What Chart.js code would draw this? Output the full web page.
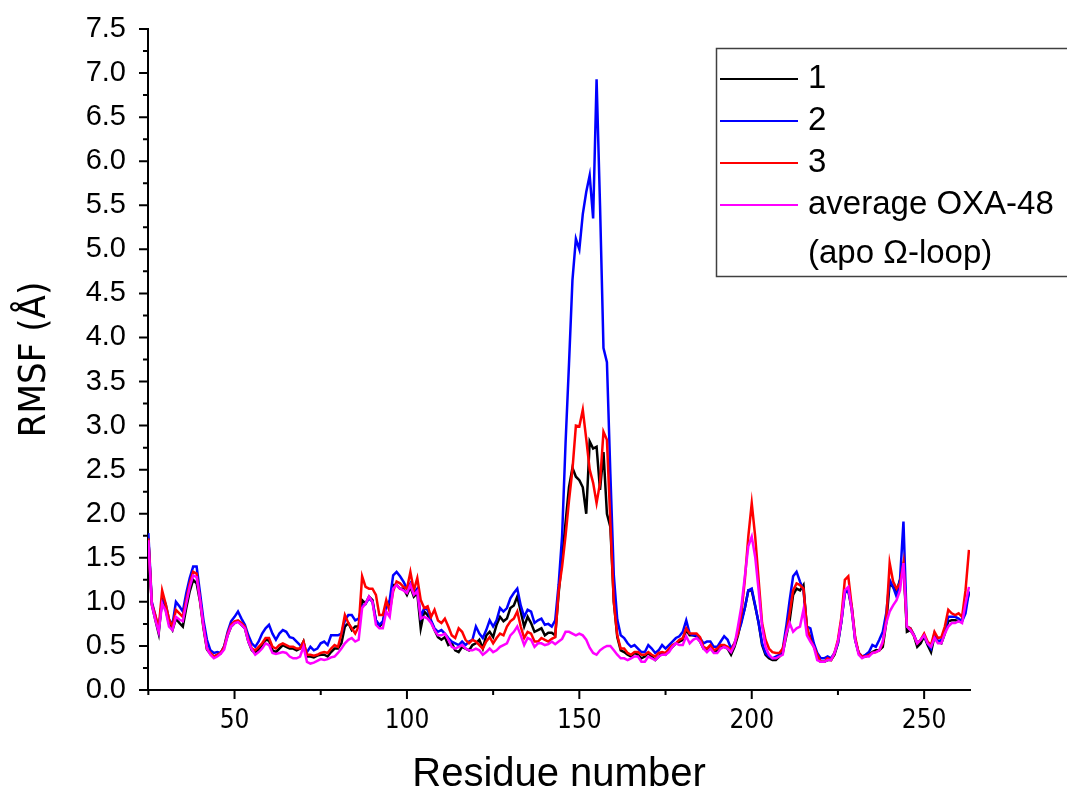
<!DOCTYPE html>
<html><head><meta charset="utf-8">
<script src="https://cdn.jsdelivr.net/npm/chart.js@4.4.0/dist/chart.umd.min.js"></script>
<style>html,body{margin:0;padding:0;background:#fff}#wrap{width:1067px;height:792px;position:relative}</style>
</head><body><div id="wrap"><canvas id="c" width="1067" height="792"></canvas></div>
<script>
const firstResidue = 25;
const series1 = [
1.72,0.97,0.80,0.64,1.04,0.92,0.75,0.68,0.81,0.76,
0.72,0.93,1.12,1.25,1.21,1.00,0.70,0.46,0.41,0.38,
0.40,0.42,0.49,0.62,0.72,0.76,0.78,0.74,0.70,0.55,
0.45,0.42,0.46,0.51,0.57,0.56,0.45,0.43,0.47,0.51,
0.49,0.47,0.47,0.45,0.47,0.55,0.38,0.38,0.37,0.39,
0.40,0.40,0.38,0.43,0.47,0.47,0.53,0.72,0.76,0.68,
0.72,0.72,1.02,0.98,1.06,1.02,0.79,0.72,0.76,0.98,
0.93,1.19,1.19,1.15,1.15,1.08,1.17,1.06,1.10,0.70,
0.89,0.85,0.78,0.68,0.60,0.57,0.60,0.51,0.53,0.45,
0.43,0.49,0.47,0.45,0.51,0.53,0.57,0.47,0.62,0.66,
0.60,0.74,0.83,0.78,0.81,0.93,0.96,1.06,0.89,0.72,
0.83,0.76,0.66,0.68,0.70,0.62,0.65,0.65,0.62,1.10,
1.50,1.90,2.30,2.52,2.42,2.38,2.30,2.00,2.82,2.74,
2.76,2.27,2.70,2.00,1.85,1.00,0.60,0.45,0.43,0.40,
0.38,0.42,0.40,0.36,0.38,0.42,0.38,0.34,0.38,0.42,
0.40,0.45,0.49,0.53,0.55,0.57,0.68,0.62,0.62,0.61,
0.55,0.47,0.45,0.49,0.43,0.45,0.49,0.49,0.47,0.40,
0.49,0.62,0.79,0.93,1.13,1.13,0.95,0.76,0.51,0.40,
0.36,0.34,0.34,0.38,0.42,0.61,0.79,1.08,1.15,1.13,
1.19,0.68,0.60,0.51,0.38,0.32,0.32,0.34,0.34,0.40,
0.53,0.78,1.12,1.13,0.91,0.57,0.42,0.38,0.38,0.40,
0.43,0.45,0.45,0.49,0.76,1.21,1.17,1.12,1.25,1.42,
0.66,0.68,0.62,0.49,0.53,0.61,0.51,0.43,0.61,0.55,
0.53,0.64,0.78,0.79,0.79,0.78,0.79,0.95,1.10];
const series2 = [
1.78,1.00,0.85,0.68,1.02,0.98,0.80,0.74,1.00,0.95,
0.89,1.10,1.27,1.40,1.40,1.10,0.79,0.57,0.45,0.42,
0.43,0.42,0.50,0.66,0.78,0.83,0.89,0.81,0.74,0.62,
0.53,0.49,0.55,0.64,0.70,0.74,0.64,0.57,0.64,0.68,
0.66,0.60,0.59,0.55,0.51,0.47,0.43,0.49,0.45,0.47,
0.53,0.55,0.51,0.62,0.62,0.62,0.64,0.79,0.85,0.85,
0.79,0.81,0.95,0.98,1.04,1.00,0.79,0.74,0.78,0.93,
1.02,1.30,1.34,1.29,1.23,1.15,1.21,1.10,1.15,0.83,
0.93,0.91,0.79,0.70,0.66,0.68,0.64,0.59,0.55,0.53,
0.51,0.55,0.51,0.55,0.57,0.72,0.64,0.59,0.68,0.79,
0.72,0.79,0.93,0.89,0.93,1.04,1.10,1.15,0.96,0.83,
0.91,0.89,0.76,0.79,0.81,0.74,0.75,0.72,0.79,1.20,
1.75,2.80,3.70,4.65,5.12,5.00,5.40,5.65,5.84,5.35,
6.93,5.50,3.88,3.72,2.45,1.30,0.80,0.62,0.59,0.53,
0.49,0.51,0.47,0.43,0.43,0.51,0.47,0.42,0.45,0.51,
0.47,0.51,0.55,0.59,0.61,0.66,0.79,0.64,0.62,0.62,
0.59,0.53,0.55,0.55,0.49,0.49,0.55,0.61,0.57,0.47,
0.53,0.64,0.76,0.93,1.13,1.15,0.96,0.76,0.53,0.42,
0.38,0.36,0.38,0.40,0.47,0.72,1.02,1.29,1.34,1.23,
1.13,0.72,0.70,0.53,0.42,0.36,0.36,0.38,0.36,0.42,
0.53,0.78,1.10,1.13,0.95,0.57,0.42,0.38,0.40,0.43,
0.51,0.49,0.57,0.66,0.87,1.25,1.17,1.06,1.25,1.91,
0.72,0.70,0.63,0.53,0.57,0.62,0.53,0.47,0.64,0.55,
0.57,0.68,0.83,0.83,0.83,0.81,0.78,0.87,1.12];
const series3 = [
1.72,0.98,0.85,0.70,1.13,0.98,0.80,0.72,0.91,0.87,
0.83,1.02,1.21,1.34,1.32,1.02,0.72,0.47,0.42,0.38,
0.40,0.42,0.49,0.64,0.74,0.78,0.79,0.76,0.72,0.57,
0.47,0.45,0.49,0.53,0.59,0.59,0.49,0.47,0.51,0.53,
0.51,0.49,0.49,0.47,0.47,0.55,0.40,0.40,0.39,0.40,
0.42,0.43,0.42,0.47,0.51,0.49,0.64,0.85,0.76,0.70,
0.64,0.72,1.29,1.17,1.15,1.15,1.08,0.85,0.85,1.02,
0.89,1.12,1.23,1.21,1.17,1.15,1.34,1.13,1.27,1.02,
0.93,0.95,0.83,0.91,0.79,0.76,0.81,0.72,0.62,0.59,
0.70,0.66,0.57,0.53,0.57,0.55,0.51,0.47,0.55,0.60,
0.53,0.59,0.64,0.62,0.72,0.78,0.81,0.89,0.72,0.59,
0.66,0.64,0.55,0.55,0.59,0.57,0.55,0.58,0.60,1.13,
1.40,1.75,2.15,2.50,3.00,2.99,3.18,2.85,2.50,2.35,
2.12,2.35,2.93,2.84,1.90,1.00,0.62,0.47,0.47,0.42,
0.40,0.43,0.43,0.40,0.40,0.43,0.40,0.38,0.42,0.43,
0.42,0.47,0.51,0.53,0.57,0.59,0.70,0.64,0.64,0.64,
0.60,0.49,0.47,0.51,0.45,0.47,0.51,0.51,0.49,0.45,
0.53,0.64,0.87,1.25,1.74,2.12,1.74,1.25,0.76,0.57,
0.47,0.43,0.42,0.42,0.47,0.64,0.87,1.13,1.21,1.19,
1.15,0.72,0.57,0.49,0.40,0.32,0.32,0.36,0.34,0.42,
0.57,0.83,1.25,1.29,0.95,0.60,0.42,0.38,0.38,0.40,
0.42,0.43,0.45,0.53,0.79,1.44,1.23,1.15,1.21,1.44,
0.72,0.70,0.62,0.53,0.57,0.64,0.55,0.51,0.66,0.59,
0.60,0.72,0.91,0.87,0.85,0.87,0.83,1.13,1.59];
const seriesAvg = [
1.70,0.97,0.80,0.66,0.98,0.90,0.72,0.68,0.83,0.80,
0.78,0.98,1.17,1.30,1.28,1.02,0.72,0.47,0.40,0.36,
0.38,0.41,0.46,0.62,0.72,0.76,0.77,0.74,0.70,0.55,
0.46,0.40,0.43,0.47,0.53,0.51,0.42,0.41,0.42,0.43,
0.42,0.38,0.36,0.36,0.38,0.49,0.32,0.30,0.31,0.33,
0.35,0.34,0.35,0.37,0.38,0.42,0.47,0.53,0.57,0.59,
0.55,0.57,0.93,0.98,1.06,1.00,0.74,0.70,0.70,0.89,
0.83,1.15,1.19,1.15,1.13,1.10,1.19,1.08,1.12,0.81,
0.83,0.81,0.76,0.68,0.62,0.62,0.64,0.57,0.49,0.47,
0.49,0.51,0.47,0.45,0.45,0.47,0.45,0.40,0.43,0.47,
0.43,0.45,0.49,0.51,0.53,0.62,0.66,0.72,0.62,0.51,
0.59,0.57,0.49,0.53,0.53,0.51,0.52,0.55,0.52,0.55,
0.58,0.66,0.66,0.64,0.62,0.64,0.62,0.57,0.48,0.42,
0.40,0.45,0.48,0.50,0.50,0.45,0.40,0.36,0.36,0.34,
0.36,0.38,0.38,0.32,0.32,0.38,0.36,0.34,0.38,0.40,
0.40,0.43,0.49,0.53,0.51,0.51,0.61,0.53,0.57,0.59,
0.55,0.47,0.43,0.47,0.42,0.42,0.47,0.49,0.47,0.43,
0.51,0.72,0.95,1.29,1.63,1.74,1.51,1.13,0.72,0.49,
0.40,0.36,0.36,0.38,0.40,0.64,0.76,0.66,0.70,0.72,
0.91,0.62,0.55,0.49,0.34,0.32,0.32,0.34,0.34,0.42,
0.55,0.79,1.13,1.17,0.91,0.57,0.40,0.36,0.38,0.38,
0.42,0.43,0.45,0.55,0.76,0.89,0.96,1.02,1.13,1.44,
0.72,0.68,0.62,0.53,0.57,0.62,0.53,0.49,0.59,0.53,
0.53,0.64,0.72,0.76,0.76,0.78,0.76,0.98,1.17];
const residues = series1.map((_, i) => firstResidue + i);
const seriesLabels = ['1', '2', '3', ['average OXA-48', '(apo \u03A9-loop)']];
const seriesColors = ['#000000', '#0000ff', '#ff0000', '#ff00ff'];
const xMajorTicks = [50, 100, 150, 200, 250];
const xMinorTicks = [25, 75, 125, 175, 225];
const yMajorTicks = [0, 0.5, 1, 1.5, 2, 2.5, 3, 3.5, 4, 4.5, 5, 5.5, 6, 6.5, 7, 7.5];
const yMinorTicks = [0.25, 0.75, 1.25, 1.75, 2.25, 2.75, 3.25, 3.75, 4.25, 4.75, 5.25, 5.75, 6.25, 6.75, 7.25];

const allSeries = [series1, series2, series3, seriesAvg];
const drawOrder = [3, 2, 1, 0];

const tickMarks = {
  id: 'tickMarks',
  afterDraw(chart) {
    const {ctx, scales: {x, y}, chartArea: a} = chart;
    ctx.save();
    ctx.strokeStyle = '#000';
    ctx.lineWidth = 2;
    ctx.beginPath();
    xMajorTicks.forEach(v => { const p = x.getPixelForValue(v); ctx.moveTo(p, a.bottom); ctx.lineTo(p, a.bottom + 9); });
    xMinorTicks.forEach(v => { const p = x.getPixelForValue(v); ctx.moveTo(p, a.bottom); ctx.lineTo(p, a.bottom + 5); });
    yMajorTicks.forEach(v => { const p = y.getPixelForValue(v); ctx.moveTo(a.left, p); ctx.lineTo(a.left - 9, p); });
    yMinorTicks.forEach(v => { const p = y.getPixelForValue(v); ctx.moveTo(a.left, p); ctx.lineTo(a.left - 5, p); });
    ctx.stroke();
    ctx.restore();
  }
};

const boxLegend = {
  id: 'boxLegend',
  afterDraw(chart) {
    const ctx = chart.ctx;
    ctx.save();
    ctx.strokeStyle = '#404040';
    ctx.lineWidth = 1.5;
    ctx.strokeRect(716.5, 48.5, 358, 228);
    const rows = [79, 121, 163, 205];
    ctx.font = '33px "Liberation Sans", Arial, sans-serif';
    ctx.textBaseline = 'middle';
    ctx.textAlign = 'left';
    chart.data.datasets.forEach((ds, i) => {
      ctx.strokeStyle = ds.borderColor;
      ctx.lineWidth = 2;
      ctx.beginPath();
      ctx.moveTo(720, rows[i]);
      ctx.lineTo(798, rows[i]);
      ctx.stroke();
      ctx.fillStyle = '#000';
      const lines = Array.isArray(ds.label) ? ds.label : [ds.label];
      lines.forEach((t, k) => ctx.fillText(t, 808, rows[i] + k * 49));
    });
    ctx.restore();
  }
};

new Chart(document.getElementById('c'), {
  type: 'line',
  data: {
    labels: residues,
    datasets: allSeries.map((s, i) => ({
      label: seriesLabels[i],
      data: s.map((v, k) => ({x: residues[k], y: v})),
      borderColor: seriesColors[i],
      backgroundColor: seriesColors[i],
      borderWidth: 2.5,
      pointRadius: 0,
      tension: 0,
      fill: false,
      order: drawOrder[i]
    }))
  },
  options: {
    responsive: false,
    devicePixelRatio: 1,
    animation: false,
    layout: {padding: {left: 0, right: 97, top: 29, bottom: 0}},
    plugins: {legend: {display: false}, tooltip: {enabled: false}},
    scales: {
      x: {
        type: 'linear',
        min: 24.9,
        max: 263.3,
        grid: {display: false, drawTicks: false},
        border: {display: true, color: '#000', width: 2},
        afterBuildTicks: s => { s.ticks = xMajorTicks.map(v => ({value: v})); },
        afterFit: s => { s.height = 102; s.paddingLeft = 0; s.paddingRight = 0; },
        ticks: {
          color: '#000',
          padding: 16,
          maxRotation: 0,
          autoSkip: false,
          font: {family: '"Liberation Sans Narrow", "Arial Narrow", "DejaVu Sans Condensed", sans-serif', size: 26}
        },
        title: {
          display: true,
          text: 'Residue number',
          color: '#000',
          padding: 0,
          font: {family: '"Liberation Sans", Arial, sans-serif', size: 40, lineHeight: 0.85}
        }
      },
      y: {
        min: 0,
        max: 7.5,
        grid: {display: false, drawTicks: false},
        border: {display: true, color: '#000', width: 2},
        afterBuildTicks: s => { s.ticks = yMajorTicks.map(v => ({value: v})); },
        afterFit: s => { s.width = 148; s.paddingTop = 0; s.paddingBottom = 0; },
        ticks: {
          color: '#000',
          padding: 22,
          callback: v => Number(v).toFixed(1),
          font: {family: '"Liberation Sans", Arial, sans-serif', size: 29}
        },
        title: {
          display: true,
          text: 'RMSF (\u00C5)',
          color: '#000',
          padding: {top: 16, bottom: 0},
          font: {family: '"Liberation Sans Narrow", "Arial Narrow", "DejaVu Sans Condensed", sans-serif', size: 38, lineHeight: 1}
        }
      }
    }
  },
  plugins: [tickMarks, boxLegend]
});
</script></body></html>
